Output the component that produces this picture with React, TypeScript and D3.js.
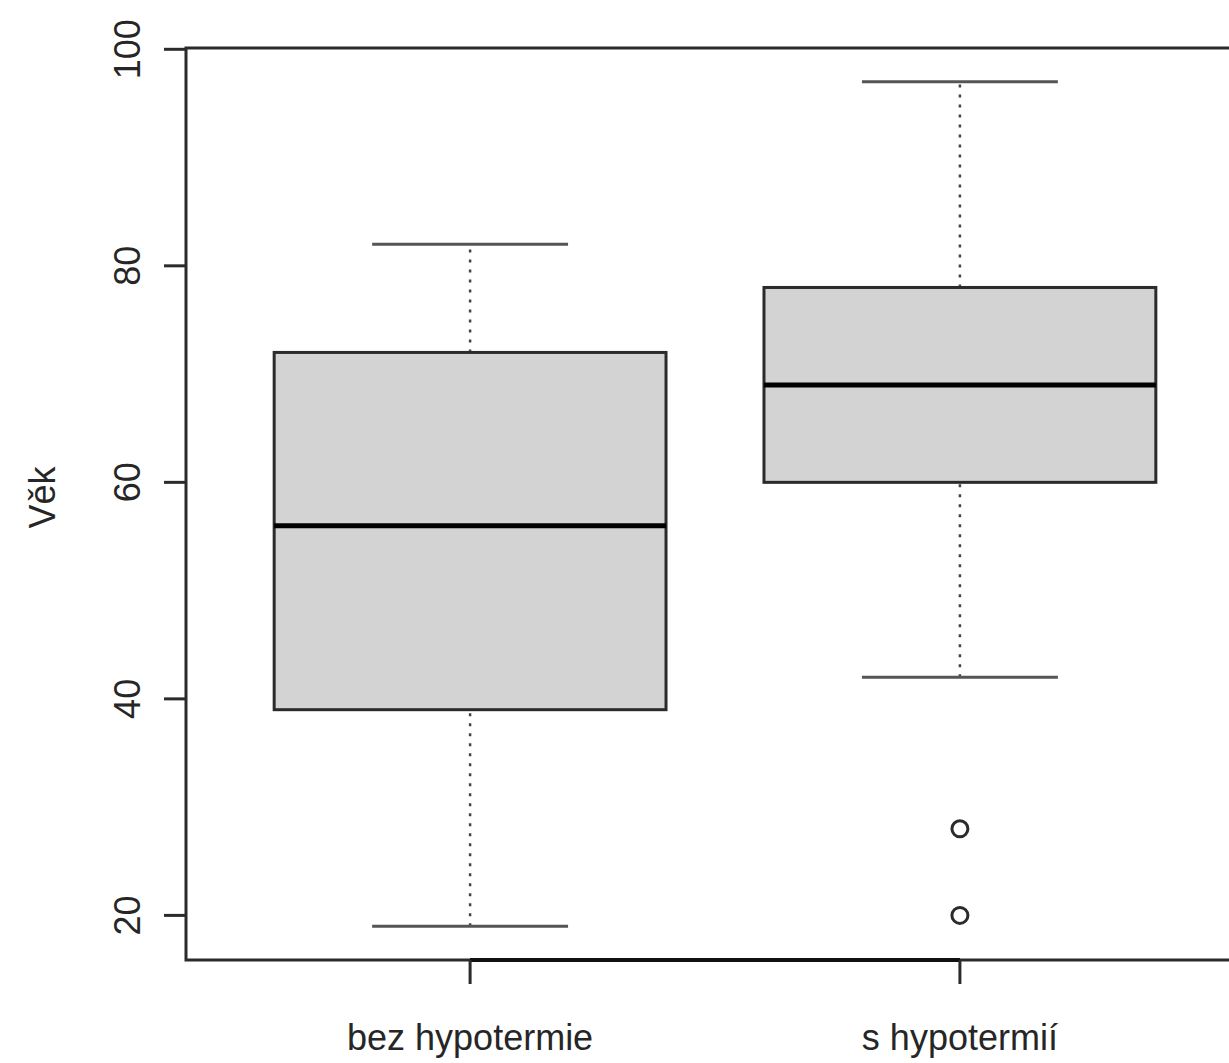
import * as d3 from "d3";

// box statistics
const groups = ["bez hypotermie", "s hypotermií"];
const lowWhisker = [19, 42];
const q1 = [39, 60];
const median = [56, 69];
const q3 = [72, 78];
const highWhisker = [82, 97];
const outliers = [[], [28, 20]];
const yTicks = [20, 40, 60, 80, 100];
const yLabel = "Věk";

const W = 1229;
const H = 1063;

export default function App() {
  // R style: 4% extension of the data range
  const x = d3.scaleLinear().domain([0.42, 2.58]).range([186, 1244]);
  const y = d3.scaleLinear().domain([15.88, 100.12]).range([960, 48]);

  const font = "'Liberation Sans', Arial, sans-serif";
  const ink = "#2b2b2b";
  const txt = "#262626";
  const boxHalf = 0.4;
  const capHalf = 0.2;

  return (
    <svg
      width={W}
      height={H}
      style={{ position: "absolute", left: 0, top: 0, background: "#fff" }}
      fontFamily={font}
    >
      {/* plot frame */}
      <rect
        x={x(0.42)}
        y={y(100.12)}
        width={x(2.58) - x(0.42)}
        height={y(15.88) - y(100.12)}
        fill="none"
        stroke={ink}
        strokeWidth={3}
      />

      {groups.map((g, i) => {
        const c = x(i + 1);
        return (
          <g key={g}>
            <line x1={c} x2={c} y1={y(lowWhisker[i])} y2={y(q1[i])} stroke="#444" strokeWidth={2.5} strokeDasharray="3 7" />
            <line x1={c} x2={c} y1={y(q3[i])} y2={y(highWhisker[i])} stroke="#444" strokeWidth={2.5} strokeDasharray="3 7" />
            <line x1={x(i + 1 - capHalf)} x2={x(i + 1 + capHalf)} y1={y(lowWhisker[i])} y2={y(lowWhisker[i])} stroke="#555" strokeWidth={3} />
            <line x1={x(i + 1 - capHalf)} x2={x(i + 1 + capHalf)} y1={y(highWhisker[i])} y2={y(highWhisker[i])} stroke="#555" strokeWidth={3} />
            <rect
              x={x(i + 1 - boxHalf)}
              y={y(q3[i])}
              width={x(i + 1 + boxHalf) - x(i + 1 - boxHalf)}
              height={y(q1[i]) - y(q3[i])}
              fill="#d3d3d3"
              stroke={ink}
              strokeWidth={3}
            />
            <line x1={x(i + 1 - boxHalf)} x2={x(i + 1 + boxHalf)} y1={y(median[i])} y2={y(median[i])} stroke="#000" strokeWidth={5} />
            {outliers[i].map((v, j) => (
              <circle key={j} cx={c} cy={y(v)} r={8} fill="none" stroke={ink} strokeWidth={3} />
            ))}
          </g>
        );
      })}

      {/* y axis */}
      {yTicks.map((t) => (
        <g key={t}>
          <line x1={164} x2={186} y1={y(t)} y2={y(t)} stroke={ink} strokeWidth={3} />
          <text
            transform={`translate(140,${y(t)}) rotate(-90)`}
            textAnchor="middle"
            fontSize={36}
            fill={txt}
          >
            {t}
          </text>
        </g>
      ))}
      <text
        transform={`translate(55,${y(58.6)}) rotate(-90)`}
        textAnchor="middle"
        fontSize={36}
        fill={txt}
      >
        {yLabel}
      </text>

      {/* x axis */}
      <line x1={x(1)} x2={x(2)} y1={960} y2={960} stroke="#111" strokeWidth={4} />
      {groups.map((g, i) => (
        <g key={g}>
          <line x1={x(i + 1)} x2={x(i + 1)} y1={960} y2={984} stroke={ink} strokeWidth={3} />
          <text x={x(i + 1)} y={1050} textAnchor="middle" fontSize={36} fill={txt}>
            {g}
          </text>
        </g>
      ))}
    </svg>
  );
}
